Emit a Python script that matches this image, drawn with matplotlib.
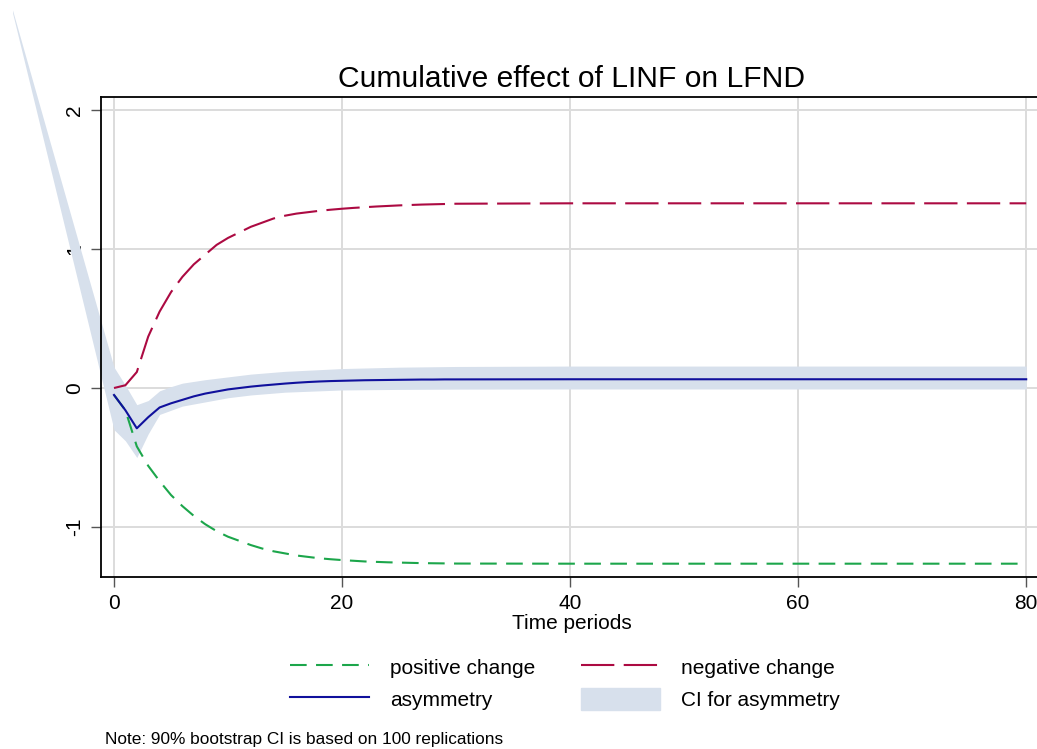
import matplotlib
matplotlib.use("Agg")
import matplotlib.pyplot as plt
from matplotlib.patches import Patch
from matplotlib.lines import Line2D

plt.rcParams["font.family"] = ["Liberation Sans", "DejaVu Sans"]

# horizons for the cumulative multipliers
periods = list(range(0, 31)) + [40, 60, 80]

positive_change = [-0.05, -0.16, -0.42, -0.56, -0.67, -0.77, -0.85, -0.92, -0.98, -1.03,
                   -1.07, -1.10, -1.13, -1.155, -1.175, -1.19, -1.205, -1.215, -1.225, -1.232,
                   -1.238, -1.243, -1.248, -1.251, -1.254, -1.256, -1.258, -1.26, -1.261, -1.262,
                   -1.263, -1.264, -1.264, -1.264]

negative_change = [0.0, 0.02, 0.115, 0.37, 0.55, 0.69, 0.80, 0.89, 0.96, 1.03,
                   1.08, 1.12, 1.16, 1.19, 1.22, 1.24, 1.255, 1.265, 1.275, 1.283,
                   1.29, 1.296, 1.301, 1.306, 1.31, 1.314, 1.317, 1.32, 1.322, 1.324,
                   1.326, 1.329, 1.329, 1.329]

asymmetry = [-0.05, -0.16, -0.29, -0.21, -0.14, -0.11, -0.085, -0.06, -0.04, -0.025,
             -0.01, 0.0, 0.01, 0.018, 0.025, 0.032, 0.038, 0.043, 0.047, 0.05,
             0.052, 0.054, 0.056, 0.057, 0.058, 0.059, 0.06, 0.061, 0.061, 0.062,
             0.062, 0.063, 0.063, 0.063]

# bootstrap CI for asymmetry
ci_periods = [-8.9, 0, 1, 2, 3, 4, 5, 6, 8, 10, 12, 15, 20, 25, 30, 40, 60, 80]
ci_upper = [2.72, 0.15, 0.02, -0.12, -0.09, -0.02, 0.01, 0.035, 0.06, 0.08, 0.10, 0.12,
            0.14, 0.15, 0.155, 0.158, 0.158, 0.158]
ci_lower = [2.70, -0.30, -0.38, -0.50, -0.33, -0.19, -0.16, -0.13, -0.10, -0.07, -0.05,
            -0.03, -0.014, -0.01, -0.008, -0.007, -0.007, -0.007]

green = "#1ca64b"
maroon = "#ac0a42"
navy = "#10109c"
band = "#d7e0ec"

fig = plt.figure(figsize=(10.37, 7.49), dpi=100, facecolor="white")
ax = fig.add_axes([0.0974, 0.2296, 0.9076, 0.6409])

band_poly = ax.fill_between(ci_periods, ci_lower, ci_upper, color=band, lw=0, zorder=2)
band_poly.set_clip_on(False)

ax.plot(periods, positive_change, color=green, lw=1.5, dashes=(8, 4.5), zorder=3)
ax.plot(periods, negative_change, color=maroon, lw=1.5, dashes=(16, 4.5), zorder=3)
ax.plot(periods, asymmetry, color=navy, lw=1.5, zorder=4)

ax.set_xlim(-1.14, 81.4)
ax.set_ylim(-1.36, 2.094)
ax.set_xticks([0, 20, 40, 60, 80])
ax.set_yticks([-1, 0, 1, 2])
ax.set_yticklabels(["-1", "0", "1", "2"], rotation=90, va="center")

ax.grid(True, color="#dcdcdc", lw=1.4)
ax.set_axisbelow(True)
ax.tick_params(axis="both", length=7, width=1, color="#555555", labelsize=15, pad=5)
ax.tick_params(axis="y", pad=5)
for side in ["left", "top", "bottom"]:
    ax.spines[side].set_linewidth(1.3)
ax.spines["right"].set_visible(False)

ax.set_title("Cumulative effect of LINF on LFND", fontsize=21.6, pad=7)
ax.set_xlabel("Time periods", fontsize=15, labelpad=1)

# fig.legend fills column by column, so order the handles accordingly
handles = [
    Line2D([], [], color=green, lw=1.5, dashes=(8, 4.5)),
    Line2D([], [], color=navy, lw=1.5),
    Line2D([], [], color=maroon, lw=1.5, dashes=(16, 4.5)),
    Patch(facecolor=band, edgecolor=band),
]
labels = ["positive change", "asymmetry", "negative change", "CI for asymmetry"]
fig.legend(handles, labels, ncol=2, loc="center", bbox_to_anchor=(0.545, 0.088),
           frameon=False, fontsize=15, handlelength=3.8, handleheight=1.3,
           handletextpad=1.0, columnspacing=2.2, labelspacing=0.45)

fig.text(0.101, 0.007, "Note: 90% bootstrap CI is based on 100 replications", fontsize=12.4)

fig.savefig("out.png", dpi=100, facecolor="white")
